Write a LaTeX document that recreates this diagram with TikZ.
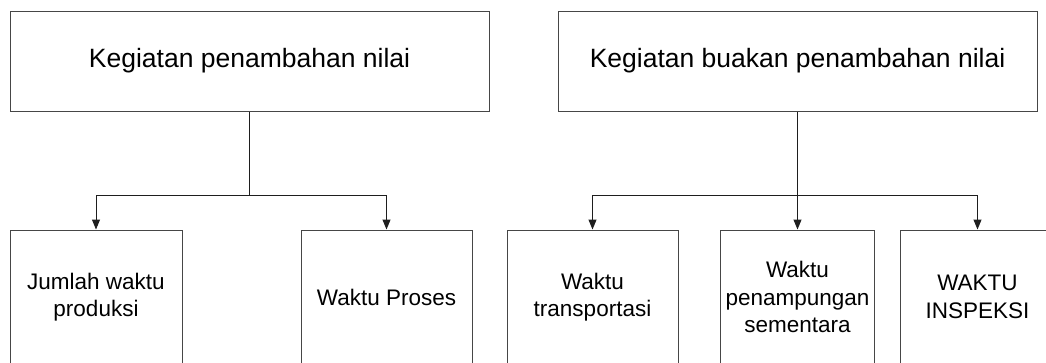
\documentclass[tikz,border=0pt]{standalone}
\usepackage{fontspec}
\setmainfont{Liberation Sans}
\usetikzlibrary{arrows.meta}
\definecolor{boxline}{RGB}{70,70,70}
\definecolor{conline}{RGB}{30,30,30}
\tikzset{
  topbox/.style={draw=boxline, line width=1pt, inner sep=0pt, minimum width=479pt, minimum height=100pt, font=\fontsize{26.5}{32}\selectfont},
  botbox/.style={draw=boxline, line width=1pt, inner sep=0pt, minimum height=134pt, align=center, font=\fontsize{22.5}{27.5}\selectfont},
  conn/.style={draw=conline, line width=1pt},
  arr/.style={conn, -{Triangle[width=8pt,length=10pt]}}
}
\begin{document}
\begin{tikzpicture}[x=1pt,y=-1pt]
\clip (0,0) rectangle (1046,362);
\fill[white] (0,0) rectangle (1046,362);
\node[topbox] (T1) at (249.5,61) {Kegiatan penambahan nilai};
\node[topbox] (T2) at (797.5,61) {Kegiatan buakan penambahan nilai};
\node[botbox, minimum width=172pt] (B1) at (96,297) {Jumlah waktu\\produksi};
\node[botbox, minimum width=171pt] (B2) at (386.5,297) {Waktu Proses};
\node[botbox, minimum width=171pt] (B3) at (592.5,297) {Waktu\\transportasi};
\node[botbox, minimum width=154pt] (B4) at (797.5,297) {Waktu\\penampungan\\sementara};
\node[botbox, minimum width=155pt] (B5) at (977.5,297) {WAKTU\\INSPEKSI};
\coordinate (J1) at (249.5,195.5);
\coordinate (J2) at (797.5,195.5);
\draw[conn] (T1.south) -- (J1);
\draw[arr] (J1) -| (B1.north);
\draw[arr] (J1) -| (B2.north);
\draw[arr] (T2.south) -- (B4.north);
\draw[arr] (J2) -| (B3.north);
\draw[arr] (J2) -| (B5.north);
\end{tikzpicture}
\end{document}
